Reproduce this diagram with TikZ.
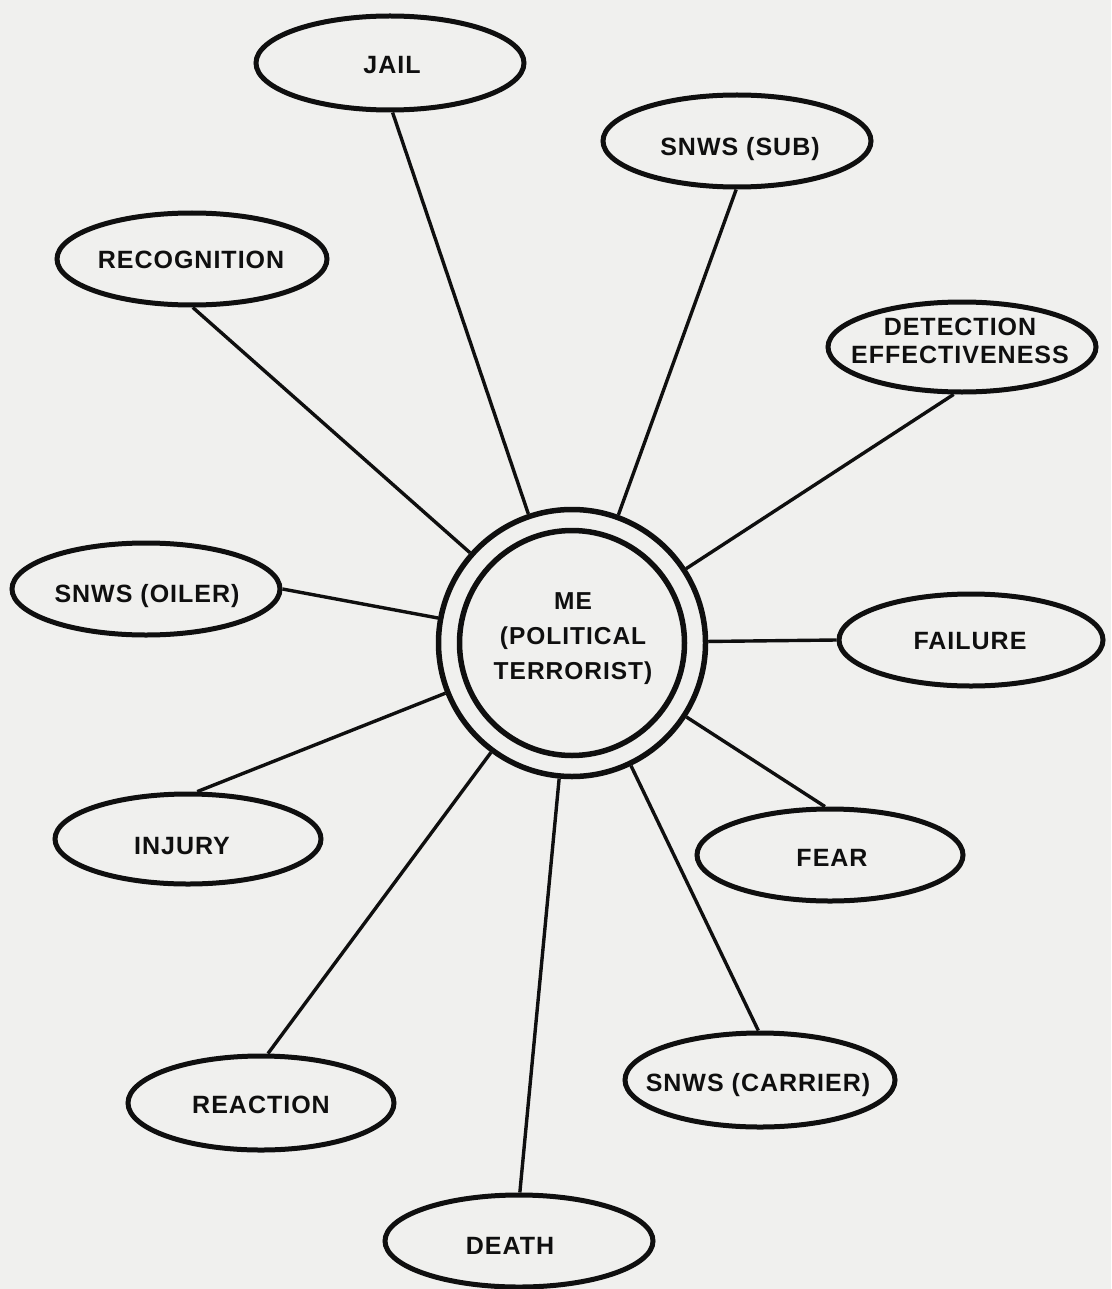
\documentclass[tikz,border=0pt]{standalone}
\usepackage{fontspec}
\newfontfamily\lab{Liberation Sans}[LetterSpace=4]
\usetikzlibrary{shapes.geometric}
\definecolor{paper}{RGB}{240,240,238}
\definecolor{ink}{RGB}{15,15,15}
\begin{document}
\begin{tikzpicture}[x=1pt,y=-1pt,
  bubble/.style 2 args={ellipse,draw=ink,line width=5pt,inner sep=0pt,
    minimum width=#1pt,minimum height=#2pt},
  txt/.style={font=\lab\bfseries\fontsize{25}{28}\selectfont,text=ink,
    inner sep=0pt,text height=18pt,text depth=0pt},
  txtm/.style={font=\lab\bfseries\fontsize{25}{28}\selectfont,text=ink,
    inner sep=0pt,align=center},
  ring/.style={circle,draw=ink,line width=5.5pt,inner sep=0pt,minimum size=#1pt},
  conn/.style={draw=ink,line width=3.4pt}]
\fill[paper] (0,0) rectangle (1111,1289);
\useasboundingbox (0,0) rectangle (1111,1289);

% centre
\node[ring=267] (me) at (572,643) {};
\node[ring=225] (mein) at (me) {};
\node[txtm,font=\lab\bfseries\fontsize{24.5}{35}\selectfont] (met) at (573,639)
  {ME\\(POLITICAL\\TERRORIST)};

% satellites
\node[bubble={268}{94}] (jail) at (390,63) {};
\node[txt] (jailt) at (392,65) {JAIL};
\node[bubble={268}{92}] (sub) at (737,141) {};
\node[txt] (subt) at (740,147) {SNWS (SUB)};
\node[bubble={270}{92}] (recog) at (192,259) {};
\node[txt] (recogt) at (191,260) {RECOGNITION};
\node[bubble={268}{90}] (detect) at (962,347) {};
\node[txtm] (detectt) at (960,341) {DETECTION\\EFFECTIVENESS};
\node[bubble={268}{92}] (oiler) at (146,589) {};
\node[txt] (oilert) at (147,593) {SNWS (OILER)};
\node[bubble={264}{92}] (failure) at (971,640) {};
\node[txt] (failuret) at (970,640) {FAILURE};
\node[bubble={266}{90}] (injury) at (188,839) {};
\node[txt] (injuryt) at (182,845) {INJURY};
\node[bubble={266}{92}] (fear) at (830,855) {};
\node[txt] (feart) at (832,857) {FEAR};
\node[bubble={270}{94}] (carrier) at (760,1080) {};
\node[txt] (carriert) at (758,1082) {SNWS (CARRIER)};
\node[bubble={266}{94}] (reaction) at (261,1103) {};
\node[txt] (reactiont) at (261,1104) {REACTION};
\node[bubble={268}{92}] (death) at (519,1241) {};
\node[txt] (deatht) at (510,1245) {DEATH};

% connectors
\draw[conn] (jail.-87) -- (me);
\draw[conn] (sub.-91) -- (me);
\draw[conn] (recog.-89) -- (me);
\draw[conn] (detect.-100) -- (me);
\draw[conn] (oiler.0) -- (me);
\draw[conn] (failure.180) -- (me);
\draw[conn] (injury.79) -- (me);
\draw[conn] (fear.96) -- (me);
\draw[conn] (carrier.92) -- (me);
\draw[conn] (death.89) -- (me);
\draw[conn] (reaction.82) -- (me);
\end{tikzpicture}
\end{document}
